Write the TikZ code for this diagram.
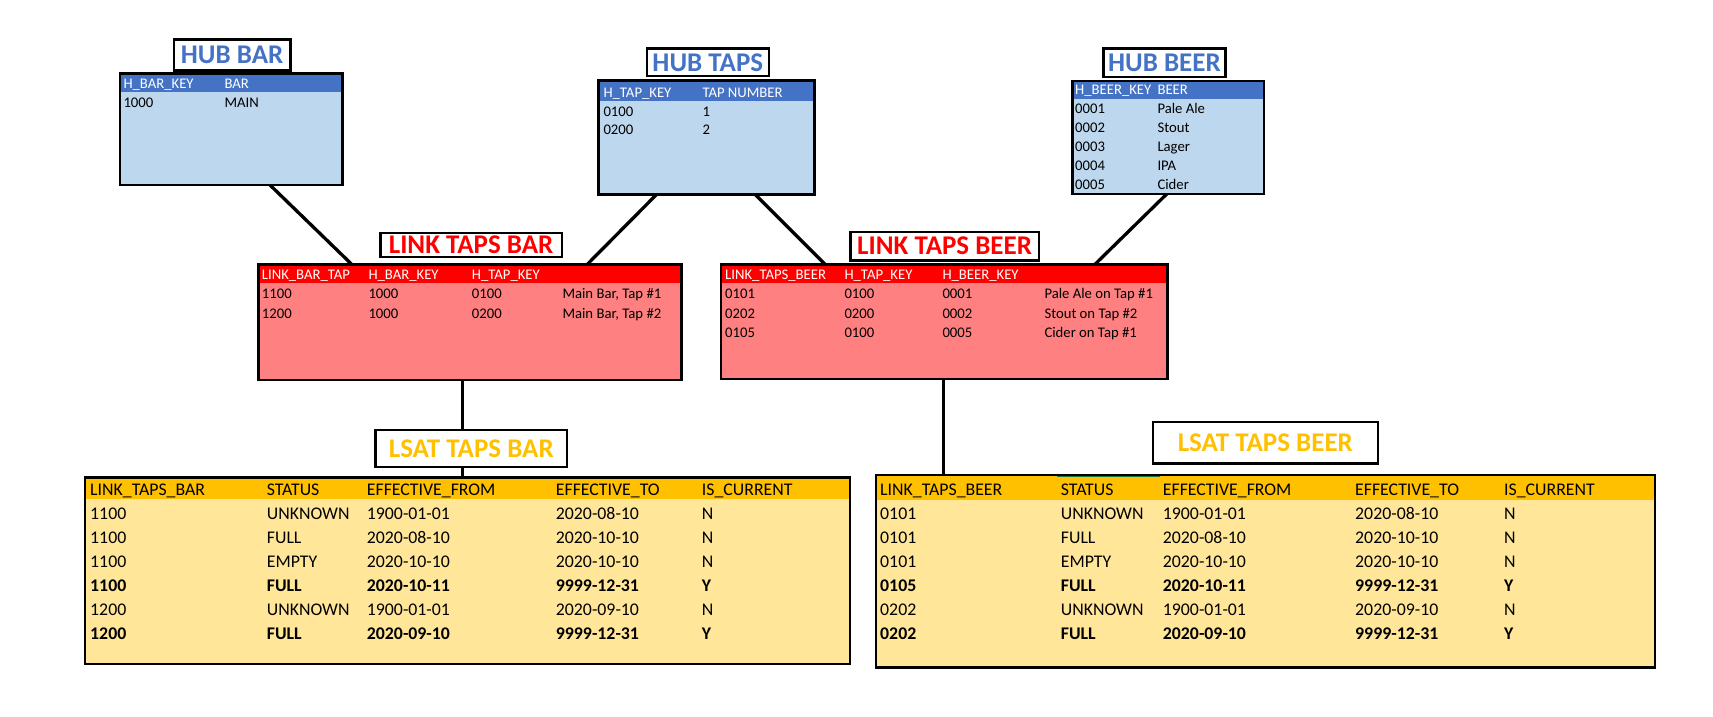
\documentclass[tikz,border=0pt]{standalone}
\usepackage{fontspec}
\setmainfont{Carlito}
\usetikzlibrary{calc}
\definecolor{hubhead}{HTML}{4472C4}
\definecolor{hubbody}{HTML}{BDD7EE}
\definecolor{linkhead}{HTML}{FF0000}
\definecolor{linkbody}{HTML}{FF8080}
\definecolor{lsathead}{HTML}{FFC000}
\definecolor{lsatbody}{HTML}{FFE699}
\definecolor{xlgreen}{HTML}{217346}
\pgfdeclarelayer{paper}
\pgfdeclarelayer{back}
\pgfsetlayers{paper,back,main}
\newcommand\trow[4]{%
  \foreach \cx/\ctext [count=\ci] in {#4} {\node[#3] (#1c\ci) at (\cx,#2) {\ctext};}}
\begin{document}
\begin{tikzpicture}[x=1pt,y=-1pt,
  tbl/.style={draw=black, line width=2.5pt, inner sep=0pt, outer sep=0pt, anchor=north west},
  hdr/.style 2 args={path picture={\fill[#1] (path picture bounding box.north west) rectangle ([yshift=-#2]path picture bounding box.north east);}},
  ttl/.style={draw=black, fill=white, line width=2.2pt, inner sep=0pt, anchor=north west, font=\bfseries\fontsize{27}{30}\selectfont},
  conn/.style={line width=3.3pt, black},
  stxt/.style={inner sep=0pt, anchor=base west, font=\fontsize{14.7}{16}\selectfont},
  shead/.style={stxt, text=white},
  ltxt/.style={inner sep=0pt, anchor=base west, font=\fontsize{17.8}{20}\selectfont},
  lbold/.style={ltxt, font=\bfseries\fontsize{17.8}{20}\selectfont}]
\begin{pgfonlayer}{paper}
\fill[white] (0,0) rectangle (1713,716);
\end{pgfonlayer}
\useasboundingbox (0,0) rectangle (1713,716);

% ---------- HUB BAR ----------
\node[ttl, text=hubhead, minimum width=116.6pt, minimum height=31pt] (tHubBar) at (172.7,38.3) {HUB BAR};
\node[tbl, fill=hubbody, hdr={hubhead}{18.4pt}, minimum width=222.3pt, minimum height=111.7pt] (hubbar) at (120,73.3) {};
\trow{hbh}{88.0}{shead}{123.3/H\_BAR\_KEY, 224.3/BAR}
\trow{hbr}{107.3}{stxt}{123.3/1000, 224.3/MAIN}

% ---------- HUB TAPS ----------
\node[ttl, text=hubhead, minimum width=122pt, minimum height=27.7pt] (tHubTaps) at (645.7,47.3) {HUB TAPS};
\node[tbl, fill=hubbody, hdr={hubhead}{20pt}, minimum width=216pt, minimum height=113.6pt] (hubtaps) at (598.3,80.7) {};
\trow{hth}{97.0}{shead}{603.3/H\_TAP\_KEY, 702.3/TAP NUMBER}
\trow{htra}{116.3}{stxt}{603.3/0100, 702.3/1}
\trow{htrb}{134.7}{stxt}{603.3/0200, 702.3/2}

% ---------- HUB BEER ----------
\node[ttl, text=hubhead, minimum width=122pt, minimum height=28.7pt] (tHubBeer) at (1102.3,47.3) {HUB BEER};
\node[tbl, fill=hubbody, hdr={hubhead}{18pt}, minimum width=191.3pt, minimum height=113pt] (hubbeer) at (1072.7,81) {};
\trow{hrh}{94.6}{shead}{1075/H\_BEER\_KEY, 1157.3/BEER}
\trow{hra}{113.0}{stxt}{1075/0001, 1157.3/Pale Ale}
\trow{hrb}{132.2}{stxt}{1075/0002, 1157.3/Stout}
\trow{hrc}{151.4}{stxt}{1075/0003, 1157.3/Lager}
\trow{hrd}{170.6}{stxt}{1075/0004, 1157.3/IPA}
\trow{hre}{189.0}{stxt}{1075/0005, 1157.3/Cider}

% ---------- LINK TAPS BAR ----------
\node[ttl, text=linkhead, minimum width=181.4pt, minimum height=24.3pt] (tLinkBar) at (379.3,231.7) {LINK TAPS BAR};
\node[tbl, fill=linkbody, hdr={linkhead}{19pt}, minimum width=423.4pt, minimum height=115.7pt] (linkbar) at (258.3,264.3) {};
\trow{lbh}{279.7}{shead}{261.7/LINK\_BAR\_TAP, 368.3/H\_BAR\_KEY, 471.7/H\_TAP\_KEY}
\trow{lba}{298.7}{stxt}{261.7/1100, 368.3/1000, 471.7/0100, 562.3/{Main Bar, Tap \#1}}
\trow{lbb}{318.0}{stxt}{261.7/1200, 368.3/1000, 471.7/0200, 562.3/{Main Bar, Tap \#2}}

% ---------- LINK TAPS BEER ----------
\node[ttl, text=linkhead, minimum width=188.4pt, minimum height=28.6pt] (tLinkBeer) at (849.3,230.7) {LINK TAPS BEER};
\node[tbl, fill=linkbody, hdr={linkhead}{19pt}, minimum width=446.3pt, minimum height=114.7pt] (linkbeer) at (721,264.3) {};
\trow{lrh}{279.7}{shead}{725/LINK\_TAPS\_BEER, 844.3/H\_TAP\_KEY, 942.3/H\_BEER\_KEY}
\trow{lra}{298.7}{stxt}{725/0101, 844.3/0100, 942.3/0001, 1044.3/Pale Ale on Tap \#1}
\trow{lrb}{318.0}{stxt}{725/0202, 844.3/0200, 942.3/0002, 1044.3/Stout on Tap \#2}
\trow{lrc}{337.0}{stxt}{725/0105, 844.3/0100, 942.3/0005, 1044.3/Cider on Tap \#1}

% ---------- LSAT TAPS BAR ----------
\node[ttl, text=lsathead, minimum width=191.7pt, minimum height=36.7pt] (tLsatBar) at (374.3,429) {LSAT TAPS BAR};
\node[tbl, fill=lsatbody, hdr={lsathead}{21.6pt}, minimum width=765pt, minimum height=186.5pt] (lsatbar) at (85,477.7) {};
\trow{sbh}{495.0}{ltxt}{90/LINK\_TAPS\_BAR, 266.7/STATUS, 366.7/EFFECTIVE\_FROM, 555.7/EFFECTIVE\_TO, 701.7/IS\_CURRENT}
\trow{sba}{519.0}{ltxt}{90/1100, 266.7/UNKNOWN, 366.7/1900-01-01, 555.7/2020-08-10, 701.7/N}
\trow{sbb}{543.0}{ltxt}{90/1100, 266.7/FULL, 366.7/2020-08-10, 555.7/2020-10-10, 701.7/N}
\trow{sbc}{567.0}{ltxt}{90/1100, 266.7/EMPTY, 366.7/2020-10-10, 555.7/2020-10-10, 701.7/N}
\trow{sbd}{591.2}{lbold}{90/1100, 266.7/FULL, 366.7/2020-10-11, 555.7/9999-12-31, 701.7/Y}
\trow{sbe}{615.0}{ltxt}{90/1200, 266.7/UNKNOWN, 366.7/1900-01-01, 555.7/2020-09-10, 701.7/N}
\trow{sbf}{639.0}{lbold}{90/1200, 266.7/FULL, 366.7/2020-09-10, 555.7/9999-12-31, 701.7/Y}

% ---------- LSAT TAPS BEER ----------
\node[ttl, text=lsathead, minimum width=225pt, minimum height=41.3pt] (tLsatBeer) at (1151.7,421) {LSAT TAPS BEER};
\node[tbl, fill=lsatbody, hdr={lsathead}{25pt}, minimum width=779pt, minimum height=192.5pt] (lsatbeer) at (876,475) {};
\draw[xlgreen, line width=1.2pt] ($(lsatbeer.north west)+(181,1.8)$) coordinate (g1) -- ($(g1)+(102.6,0)$) coordinate (g2);
\trow{srh}{495.0}{ltxt}{880/LINK\_TAPS\_BEER, 1060.7/STATUS, 1162.7/EFFECTIVE\_FROM, 1355/EFFECTIVE\_TO, 1504/IS\_CURRENT}
\trow{sra}{519.0}{ltxt}{880/0101, 1060.7/UNKNOWN, 1162.7/1900-01-01, 1355/2020-08-10, 1504/N}
\trow{srb}{543.2}{ltxt}{880/0101, 1060.7/FULL, 1162.7/2020-08-10, 1355/2020-10-10, 1504/N}
\trow{src}{567.2}{ltxt}{880/0101, 1060.7/EMPTY, 1162.7/2020-10-10, 1355/2020-10-10, 1504/N}
\trow{srd}{591.2}{lbold}{880/0105, 1060.7/FULL, 1162.7/2020-10-11, 1355/9999-12-31, 1504/Y}
\trow{sre}{615.5}{ltxt}{880/0202, 1060.7/UNKNOWN, 1162.7/1900-01-01, 1355/2020-09-10, 1504/N}
\trow{srf}{639.5}{lbold}{880/0202, 1060.7/FULL, 1162.7/2020-09-10, 1355/9999-12-31, 1504/Y}

% ---------- connectors ----------
\begin{pgfonlayer}{back}
\draw[conn] ($(hubbar.south west)+(150,0)$) -- ($(linkbar.north west)+(93.4,0)$);
\draw[conn] ($(hubtaps.south west)+(58.4,0)$) -- ($(linkbar.north west)+(329,0)$);
\draw[conn] ($(hubtaps.south west)+(156.7,0)$) -- ($(linkbeer.north west)+(104,0)$);
\draw[conn] ($(hubbeer.south west)+(94,0)$) -- ($(linkbeer.north west)+(374,0)$);
\draw[conn] ($(linkbar.south west)+(204.2,0)$) coordinate (v1) -- (v1 |- lsatbar.north);
\draw[conn] ($(linkbeer.south west)+(222.3,0)$) coordinate (v2) -- (v2 |- lsatbeer.north);
\end{pgfonlayer}
\end{tikzpicture}
\end{document}
